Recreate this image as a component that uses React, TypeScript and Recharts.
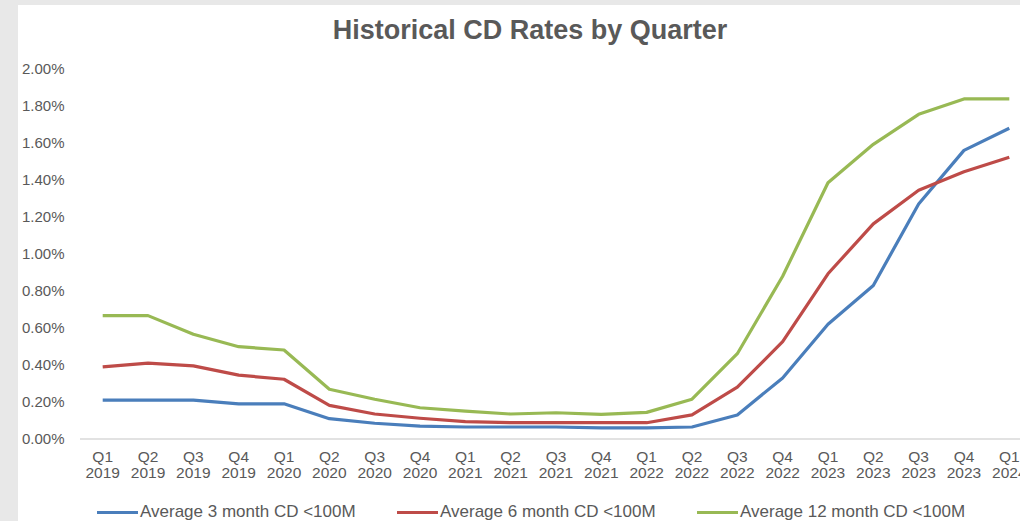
import React from 'react'
import { LineChart, Line, XAxis, YAxis, Legend } from 'recharts'

const QUARTERS = [
  'Q1 2019', 'Q2 2019', 'Q3 2019', 'Q4 2019',
  'Q1 2020', 'Q2 2020', 'Q3 2020', 'Q4 2020',
  'Q1 2021', 'Q2 2021', 'Q3 2021', 'Q4 2021',
  'Q1 2022', 'Q2 2022', 'Q3 2022', 'Q4 2022',
  'Q1 2023', 'Q2 2023', 'Q3 2023', 'Q4 2023',
  'Q1 2024',
]

// rates in percent
const CD_3M = [0.21, 0.21, 0.21, 0.19, 0.19, 0.11, 0.085, 0.07, 0.065, 0.065, 0.065, 0.06, 0.06, 0.065, 0.13, 0.33, 0.62, 0.83, 1.27, 1.56, 1.68]
const CD_6M = [0.39, 0.41, 0.395, 0.345, 0.323, 0.182, 0.135, 0.112, 0.094, 0.088, 0.088, 0.088, 0.088, 0.13, 0.28, 0.526, 0.893, 1.163, 1.345, 1.445, 1.523]
const CD_12M = [0.667, 0.667, 0.566, 0.499, 0.481, 0.269, 0.215, 0.169, 0.151, 0.135, 0.142, 0.133, 0.144, 0.215, 0.461, 0.88, 1.385, 1.593, 1.755, 1.838, 1.838]

const Y_TICKS = [0, 0.2, 0.4, 0.6, 0.8, 1.0, 1.2, 1.4, 1.6, 1.8, 2.0]

const SERIES = [
  { key: 'cd3', name: 'Average 3 month CD <100M', color: '#4a7ebb' },
  { key: 'cd6', name: 'Average 6 month CD <100M', color: '#be4b48' },
  { key: 'cd12', name: 'Average 12 month CD <100M', color: '#98b954' },
]

const data = QUARTERS.map((q, i) => ({
  quarter: q,
  cd3: CD_3M[i],
  cd6: CD_6M[i],
  cd12: CD_12M[i],
}))

const FONT = '"Liberation Sans", Arial, sans-serif'
const TEXT = '#595959'

if (typeof document !== 'undefined') document.body.style.margin = '0'

const YTick = ({ y, payload }: any) => (
  <text x={22} y={y} dy={5} fill={TEXT} fontSize={15} fontFamily={FONT} textAnchor="start">
    {payload.value.toFixed(2)}%
  </text>
)

const XTick = ({ x, y, payload }: any) => {
  const [q, yr] = String(payload.value).split(' ')
  return (
    <text x={x} y={y} fill={TEXT} fontSize={15.5} fontFamily={FONT} textAnchor="middle">
      <tspan x={x} dy={15}>{q}</tspan>
      <tspan x={x} dy={16}>{yr}</tspan>
    </text>
  )
}

const LegendRow = () => (
  <div style={{ position: 'relative', width: 1020, height: 24 }}>
    {SERIES.map((s, i) => (
      <div
        key={s.key}
        style={{ position: 'absolute', left: 97 + i * 300, top: 0, display: 'flex', alignItems: 'center', height: 24 }}
      >
        <span style={{ display: 'inline-block', width: 41, height: 3, background: s.color }} />
        <span style={{ marginLeft: 2, fontSize: 17, lineHeight: '24px', color: TEXT, fontFamily: FONT, whiteSpace: 'nowrap' }}>{s.name}</span>
      </div>
    ))}
  </div>
)

export default function App() {
  return (
    <div style={{ position: 'relative', width: 1020, height: 521, overflow: 'hidden', background: '#e8e8e8' }}>
      <div style={{ position: 'absolute', left: 18, top: 5, right: 0, bottom: 0, background: '#fff' }} />
      <div
        style={{
          position: 'absolute', left: 0, top: 17, width: 1060, textAlign: 'center',
          fontFamily: FONT, fontWeight: 'bold', fontSize: 27, lineHeight: '27px', color: TEXT,
        }}
      >
        Historical CD Rates by Quarter
      </div>
      <div style={{ position: 'absolute', left: 0, top: 0 }}>
        <LineChart width={1060} height={521} data={data} margin={{ top: 69, right: 28, bottom: 32, left: 0 }}>
          <XAxis
            dataKey="quarter"
            interval={0}
            tickLine={false}
            axisLine={{ stroke: '#d9d9d9', strokeWidth: 1.5 }}
            padding={{ left: 22.7, right: 22.7 }}
            height={50}
            tick={<XTick />}
          />
          <YAxis
            width={80}
            domain={[0, 2]}
            ticks={Y_TICKS}
            interval={0}
            axisLine={false}
            tickLine={false}
            tick={<YTick />}
          />
          <Legend
            layout="horizontal"
            verticalAlign="middle"
            align="center"
            wrapperStyle={{ top: 500, left: 0, width: 1020 }}
            content={<LegendRow />}
          />
          {SERIES.map(s => (
            <Line
              key={s.key}
              type="linear"
              dataKey={s.key}
              name={s.name}
              stroke={s.color}
              strokeWidth={3.2}
              strokeLinejoin="round"
              dot={false}
              isAnimationActive={false}
            />
          ))}
        </LineChart>
      </div>
    </div>
  )
}
